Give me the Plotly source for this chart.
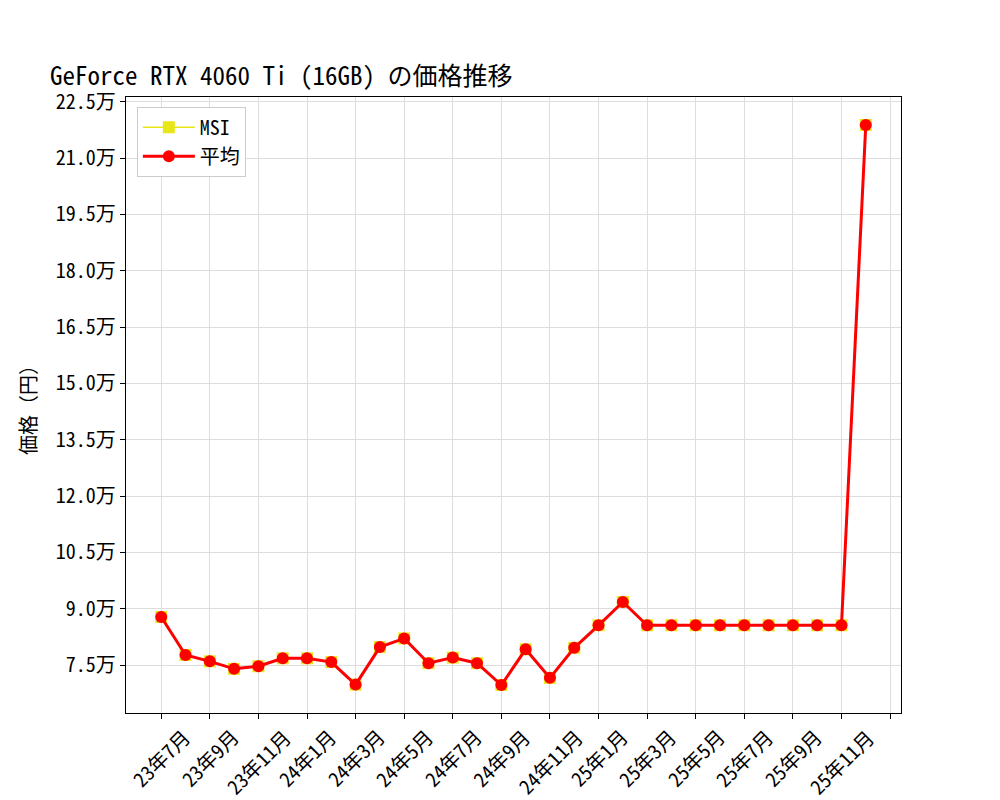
import plotly.graph_objects as go

# 月ごとの価格 (23年7月〜25年12月)
months = ["23年7月", "23年8月", "23年9月", "23年10月", "23年11月", "23年12月",
          "24年1月", "24年2月", "24年3月", "24年4月", "24年5月", "24年6月",
          "24年7月", "24年8月", "24年9月", "24年10月", "24年11月", "24年12月",
          "25年1月", "25年2月", "25年3月", "25年4月", "25年5月", "25年6月",
          "25年7月", "25年8月", "25年9月", "25年10月", "25年11月", "25年12月"]
msi = [87800, 77700, 76000, 74000, 74700, 76800, 76800, 75800, 69800, 79800,
       82100, 75500, 77000, 75500, 69700, 79200, 71600, 79600, 85600, 91800,
       85600, 85600, 85600, 85600, 85600, 85600, 85600, 85600, 85600, 218800]
avg = [87800, 77700, 76000, 74000, 74700, 76800, 76800, 75800, 69800, 79800,
       82100, 75500, 77000, 75500, 69700, 79200, 71600, 79600, 85600, 91800,
       85600, 85600, 85600, 85600, 85600, 85600, 85600, 85600, 85600, 218800]

xtick_labels = ["23年7月", "23年9月", "23年11月", "24年1月", "24年3月", "24年5月",
                "24年7月", "24年9月", "24年11月", "25年1月", "25年3月", "25年5月",
                "25年7月", "25年9月", "25年11月", ""]
ytick_vals = [75000, 90000, 105000, 120000, 135000, 150000, 165000, 180000, 195000, 210000, 225000]

FONT = "Noto Sans Mono CJK JP, Noto Sans CJK JP, sans-serif"
TICK_SIZE = 20
PLOT_H = 616

x = list(range(len(months)))
xtick_pos = list(range(0, 2 * len(xtick_labels), 2))
ytick_text = ["{:.1f}万".format(v / 10000) for v in ytick_vals]

fig = go.Figure()
fig.add_trace(go.Scatter(
    x=x, y=msi, name="MSI", mode="lines+markers",
    line=dict(color="#e6e619", width=1.5),
    marker=dict(symbol="square", size=12, color="#e6e619"),
    text=months, hovertemplate="%{text}: %{y}<extra>MSI</extra>"))
fig.add_trace(go.Scatter(
    x=x, y=avg, name="平均", mode="lines+markers",
    line=dict(color="#ff0000", width=3),
    marker=dict(symbol="circle", size=12, color="#ff0000"),
    text=months, hovertemplate="%{text}: %{y}<extra>平均</extra>"))

# matplotlib風の5%余白
n = len(x) - 1
lo, hi = min(avg + msi), max(avg + msi)
pad = (hi - lo) * 0.05


def text_em(s):
    return sum(0.5 if ord(c) < 128 else 1.0 for c in s)


# 回転したラベルを目盛りの中央に置く（matplotlibのrotation=45と同じ見た目）
for pos, lab in zip(xtick_pos, xtick_labels):
    if lab:
        w = text_em(lab) * TICK_SIZE
        half = (w + TICK_SIZE) / (2 * 2 ** 0.5)
        fig.add_annotation(x=pos, xref="x", y=-(13 + half) / PLOT_H, yref="paper",
                           text=lab, textangle=-45, showarrow=False,
                           xanchor="center", yanchor="middle",
                           font=dict(size=TICK_SIZE))

fig.update_layout(
    width=1000, height=800,
    paper_bgcolor="white", plot_bgcolor="white",
    margin=dict(l=118, r=107, t=89, b=95),
    font=dict(family=FONT, size=20, color="black"),
    title=dict(text="GeForce RTX 4060 Ti (16GB) の価格推移", font=dict(size=25),
               x=0.042, xref="container", xanchor="left",
               y=1 - 68 / 800, yref="container", yanchor="middle"),
    showlegend=True,
    legend=dict(x=0.014, y=0.984, xanchor="left", yanchor="top",
                bgcolor="white", bordercolor="#cccccc", borderwidth=1,
                font=dict(size=20), itemwidth=52, tracegroupgap=2),
)
fig.update_xaxes(
    range=[-n * 0.05, n * 1.05],
    tickvals=xtick_pos, showticklabels=False,
    showline=True, linecolor="black", linewidth=1.3, mirror=True,
    ticks="outside", ticklen=5, tickcolor="black",
    showgrid=True, gridcolor="#dddddd", gridwidth=1, zeroline=False,
)
fig.update_yaxes(
    range=[lo - pad, hi + pad],
    tickvals=ytick_vals, ticktext=ytick_text,
    title=dict(text="価格（円）", font=dict(size=20), standoff=13),
    showline=True, linecolor="black", linewidth=1.3, mirror=True,
    ticks="outside", ticklen=5, tickcolor="black",
    showgrid=True, gridcolor="#dddddd", gridwidth=1, zeroline=False,
)

fig.write_html("out.html")
